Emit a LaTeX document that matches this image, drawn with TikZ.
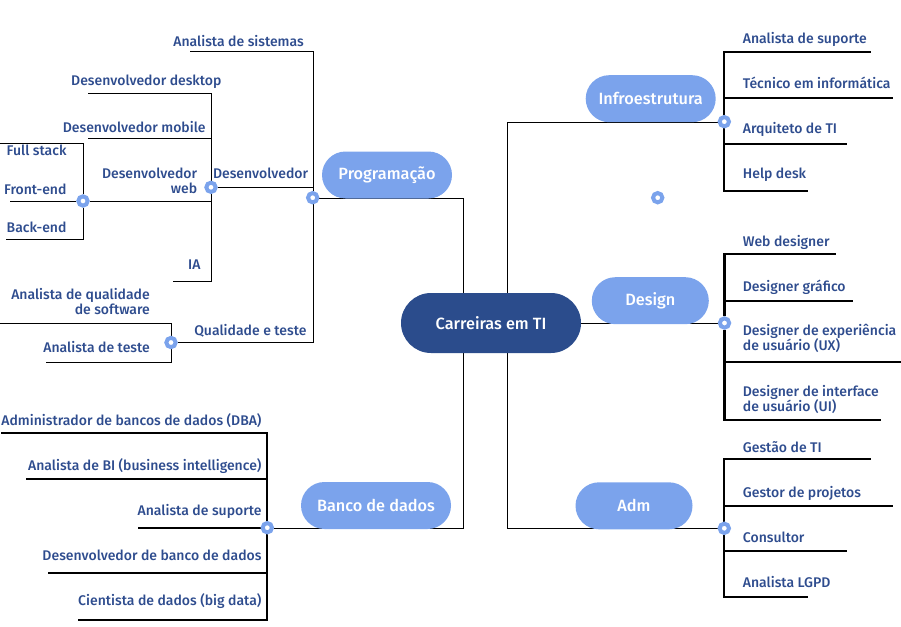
\documentclass[tikz,border=0pt]{standalone}
\usepackage{fontspec}
\setmainfont{Fira Sans}[BoldFont=* Medium]
\usetikzlibrary{backgrounds}
\definecolor{txtblue}{HTML}{2E4C8E}
\definecolor{lightblue}{HTML}{7BA3EC}
\definecolor{darkblue}{HTML}{2B4C8C}

\begin{document}
\begin{tikzpicture}[x=1pt,y=-1pt,
  hub/.style={circle,draw=lightblue,line width=4pt,fill=white,inner sep=0pt,minimum size=9.3pt},
  topic/.style={fill=lightblue,text=white,rounded corners=23.5pt,minimum height=47pt,font=\fontsize{16.3}{19}\selectfont\bfseries},
  leaf/.style={text=txtblue,inner sep=0pt,font=\fontsize{14}{15}\selectfont\bfseries},
  leafL/.style={leaf,align=right,anchor=base east},
  leafR/.style={leaf,align=left,anchor=base west},
  branch/.style={line width=2.2pt}]
\useasboundingbox (0,0) rectangle (901,626);

\node[topic,fill=darkblue,minimum width=180pt,minimum height=60pt,rounded corners=30pt] (ti) at (491,323) {Carreiras em TI};
\node[topic,minimum width=130pt] (prog) at (387,175) {Programação};
\node[topic,minimum width=150pt] (bd) at (376,505.5) {Banco de dados};
\node[topic,minimum width=130pt] (infra) at (650.7,98.7) {Infroestrutura};
\node[topic,minimum width=117pt] (design) at (650.3,300.7) {Design};
\node[topic,minimum width=117pt] (adm) at (634,505.8) {Adm};

\node[hub] (proghub) at (312.7,197.7) {};
\node[hub] (devhub) at (211,187.3) {};
\node[hub] (webhub) at (83,201) {};
\node[hub] (qahub) at (171,342.5) {};
\node[hub] (bdhub) at (267.3,527.7) {};
\node[hub] (infrahub) at (724.3,121.7) {};
\node[hub] (designhub) at (724.5,323) {};
\node[hub] (admhub) at (724.3,528.3) {};
\node[hub] (spare) at (657.7,197.7) {};

\begin{scope}[on background layer,branch]
\draw ([xshift=-27.7pt]ti.north) |- (proghub);
\draw ([xshift=16.3pt]ti.north) |- (infrahub);
\draw (ti.east) -- (designhub);
\draw ([xshift=-27.7pt]ti.south) |- (bdhub);
\draw ([xshift=16.3pt]ti.south) |- (admhub);

\coordinate (sis) at (190,51.7);
\draw (proghub) |- (sis);
\draw (proghub) |- (devhub);
\draw (proghub) |- (qahub);
\coordinate (desk) at (88,93.3);
\coordinate (mob) at (88,138.3);
\coordinate (ia) at (173,281);
\draw (devhub) |- (desk);
\draw (devhub) |- (mob);
\draw (devhub) |- (webhub);
\draw (devhub) |- (ia);
\coordinate (full) at (0,142.7);
\coordinate (front) at (10,201);
\coordinate (back) at (6,239.3);
\draw (webhub) |- (full);
\draw (webhub) -- (front);
\draw (webhub) |- (back);
\coordinate (qsw) at (0,323.3);
\coordinate (teste) at (46,361.7);
\draw (qahub) |- (qsw);
\draw (qahub) |- (teste);
\end{scope}

\node[leafL] (sislbl) at (304,46) {Analista de sistemas};
\node[leafL] (desklbl) at (221.7,85) {Desenvolvedor desktop};
\node[leafL] (moblbl) at (205.7,132.3) {Desenvolvedor mobile};
\node[leafL] (devlbl) at (308.3,178.3) {Desenvolvedor};
\node[leafL] (weblbl) at (197.3,193.3) {Desenvolvedor\\web};
\node[leafL] (fulllbl) at (66.7,155) {Full stack};
\node[leafL] (frontlbl) at (66.7,194.3) {Front-end};
\node[leafL] (backlbl) at (66.7,232.3) {Back-end};
\node[leafL] (ialbl) at (200.7,269.3) {IA};
\node[leafL] (qswlbl) at (150,314.3) {Analista de qualidade\\de software};
\node[leafL] (testelbl) at (150,352.3) {Analista de teste};
\node[leafL] (qalbl) at (306.7,335) {Qualidade e teste};

\foreach \ly/\by/\xe/\t [count=\i] in {432.7/425.7/1/{Administrador de bancos de dados (DBA)},479/470/26/{Analista de BI (business intelligence)},527.7/515/138/{Analista de suporte},572.7/560/48/{Desenvolvedor de banco de dados},620/605/78/{Cientista de dados (big data)}}{
  \coordinate (bd\i) at (\xe,\ly);
  \begin{pgfonlayer}{background}
  \draw[branch] (bdhub) |- (bd\i);
  \end{pgfonlayer}
  \node[leafL] (bdlbl\i) at (261.7,\by) {\t};
}

\foreach \ly/\by/\xe/\t [count=\i] in {52.3/44/870.7/{Analista de suporte},98.3/88.3/893/{Técnico em informática},144.3/133.3/846.7/{Arquiteto de TI},190.7/178.7/807.7/{Help desk}}{
  \coordinate (inf\i) at (\xe,\ly);
  \begin{pgfonlayer}{background}
  \draw[branch] (infrahub) |- (inf\i);
  \end{pgfonlayer}
  \node[leafR] (inflbl\i) at (742.7,\by) {\t};
}

\foreach \ly/\by/\xe/\t [count=\i] in {254.3/246/835.7/{Web designer},300.7/291/853.3/{Designer gráfico},361.7/350.7/901/{Designer de experiência\\de usuário (UX)},420/411/880.7/{Designer de interface\\de usuário (UI)}}{
  \coordinate (des\i) at (\xe,\ly);
  \begin{pgfonlayer}{background}
  \draw[branch] (designhub) |- (des\i);
  \end{pgfonlayer}
  \node[leafR] (deslbl\i) at (742.7,\by) {\t};
}

\foreach \ly/\by/\xe/\t [count=\i] in {459.3/452.3/870.7/{Gestão de TI},505.7/497.3/893.3/{Gestor de projetos},551/542.3/846.7/{Consultor},596.7/587.3/807.7/{Analista LGPD}}{
  \coordinate (adm\i) at (\xe,\ly);
  \begin{pgfonlayer}{background}
  \draw[branch] (admhub) |- (adm\i);
  \end{pgfonlayer}
  \node[leafR] (admlbl\i) at (742.7,\by) {\t};
}
\end{tikzpicture}
\end{document}
